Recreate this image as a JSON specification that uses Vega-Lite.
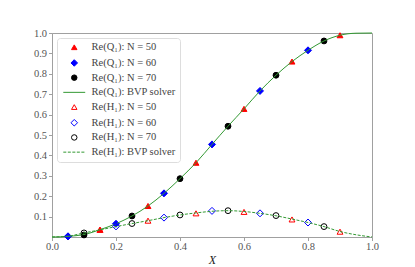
{
  "$schema": "https://vega.github.io/schema/vega-lite/v6.json",
  "autosize": {"type": "none"},
  "padding": {"left": 52, "top": 33, "right": 43, "bottom": 30},
  "width": 320,
  "height": 204,
  "background": "white",
  "config": {
    "font": "Liberation Serif",
    "view": {"stroke": "#a0a0a0", "strokeWidth": 1},
    "axis": {
      "grid": false,
      "domainColor": "#a0a0a0",
      "tickColor": "#a0a0a0",
      "tickSize": 3.5,
      "labelFont": "Liberation Serif",
      "labelFontSize": 10.5,
      "labelColor": "#555555",
      "titleFont": "Liberation Serif",
      "titleFontSize": 12,
      "titleFontStyle": "italic",
      "titleFontWeight": "normal",
      "titleColor": "#222222"
    },
    "legend": {
      "labelFont": "Liberation Serif",
      "labelFontSize": 10.5,
      "labelColor": "#444444"
    }
  },
  "datasets": {
    "pts": [
      {"s": "Re(Q₁): N = 50", "x": 0.15, "y": 0.036},
      {"s": "Re(Q₁): N = 50", "x": 0.3, "y": 0.152},
      {"s": "Re(Q₁): N = 50", "x": 0.45, "y": 0.364},
      {"s": "Re(Q₁): N = 50", "x": 0.6, "y": 0.628},
      {"s": "Re(Q₁): N = 50", "x": 0.75, "y": 0.86},
      {"s": "Re(Q₁): N = 50", "x": 0.9, "y": 0.989},
      {"s": "Re(Q₁): N = 60", "x": 0.05, "y": 0.003},
      {"s": "Re(Q₁): N = 60", "x": 0.2, "y": 0.065},
      {"s": "Re(Q₁): N = 60", "x": 0.35, "y": 0.214},
      {"s": "Re(Q₁): N = 60", "x": 0.5, "y": 0.454},
      {"s": "Re(Q₁): N = 60", "x": 0.65, "y": 0.716},
      {"s": "Re(Q₁): N = 60", "x": 0.8, "y": 0.915},
      {"s": "Re(Q₁): N = 70", "x": 0.1, "y": 0.01},
      {"s": "Re(Q₁): N = 70", "x": 0.25, "y": 0.103},
      {"s": "Re(Q₁): N = 70", "x": 0.4, "y": 0.286},
      {"s": "Re(Q₁): N = 70", "x": 0.55, "y": 0.543},
      {"s": "Re(Q₁): N = 70", "x": 0.7, "y": 0.793},
      {"s": "Re(Q₁): N = 70", "x": 0.85, "y": 0.961},
      {"s": "Re(H₁): N = 50", "x": 0.15, "y": 0.035},
      {"s": "Re(H₁): N = 50", "x": 0.3, "y": 0.08},
      {"s": "Re(H₁): N = 50", "x": 0.45, "y": 0.116},
      {"s": "Re(H₁): N = 50", "x": 0.6, "y": 0.123},
      {"s": "Re(H₁): N = 50", "x": 0.75, "y": 0.086},
      {"s": "Re(H₁): N = 50", "x": 0.9, "y": 0.026},
      {"s": "Re(H₁): N = 60", "x": 0.05, "y": 0.003},
      {"s": "Re(H₁): N = 60", "x": 0.2, "y": 0.052},
      {"s": "Re(H₁): N = 60", "x": 0.35, "y": 0.095},
      {"s": "Re(H₁): N = 60", "x": 0.5, "y": 0.128},
      {"s": "Re(H₁): N = 60", "x": 0.65, "y": 0.116},
      {"s": "Re(H₁): N = 60", "x": 0.8, "y": 0.071},
      {"s": "Re(H₁): N = 70", "x": 0.1, "y": 0.02},
      {"s": "Re(H₁): N = 70", "x": 0.25, "y": 0.066},
      {"s": "Re(H₁): N = 70", "x": 0.4, "y": 0.108},
      {"s": "Re(H₁): N = 70", "x": 0.55, "y": 0.129},
      {"s": "Re(H₁): N = 70", "x": 0.7, "y": 0.105},
      {"s": "Re(H₁): N = 70", "x": 0.85, "y": 0.051}
    ],
    "qline": [
      {"s": "Re(Q₁): BVP solver", "x": 0, "y": 0},
      {"s": "Re(Q₁): BVP solver", "x": 0.025, "y": 0.0006},
      {"s": "Re(Q₁): BVP solver", "x": 0.05, "y": 0.003},
      {"s": "Re(Q₁): BVP solver", "x": 0.075, "y": 0.0065},
      {"s": "Re(Q₁): BVP solver", "x": 0.1, "y": 0.012},
      {"s": "Re(Q₁): BVP solver", "x": 0.15, "y": 0.036},
      {"s": "Re(Q₁): BVP solver", "x": 0.2, "y": 0.065},
      {"s": "Re(Q₁): BVP solver", "x": 0.25, "y": 0.103},
      {"s": "Re(Q₁): BVP solver", "x": 0.3, "y": 0.152},
      {"s": "Re(Q₁): BVP solver", "x": 0.35, "y": 0.214},
      {"s": "Re(Q₁): BVP solver", "x": 0.4, "y": 0.286},
      {"s": "Re(Q₁): BVP solver", "x": 0.45, "y": 0.364},
      {"s": "Re(Q₁): BVP solver", "x": 0.5, "y": 0.454},
      {"s": "Re(Q₁): BVP solver", "x": 0.55, "y": 0.543},
      {"s": "Re(Q₁): BVP solver", "x": 0.6, "y": 0.628},
      {"s": "Re(Q₁): BVP solver", "x": 0.65, "y": 0.716},
      {"s": "Re(Q₁): BVP solver", "x": 0.7, "y": 0.793},
      {"s": "Re(Q₁): BVP solver", "x": 0.75, "y": 0.86},
      {"s": "Re(Q₁): BVP solver", "x": 0.8, "y": 0.915},
      {"s": "Re(Q₁): BVP solver", "x": 0.85, "y": 0.961},
      {"s": "Re(Q₁): BVP solver", "x": 0.9, "y": 0.989},
      {"s": "Re(Q₁): BVP solver", "x": 0.95, "y": 0.999},
      {"s": "Re(Q₁): BVP solver", "x": 1.0, "y": 1.0}
    ],
    "hline": [
      {"s": "Re(H₁): BVP solver", "x": 0, "y": 0},
      {"s": "Re(H₁): BVP solver", "x": 0.05, "y": 0.004},
      {"s": "Re(H₁): BVP solver", "x": 0.1, "y": 0.02},
      {"s": "Re(H₁): BVP solver", "x": 0.15, "y": 0.035},
      {"s": "Re(H₁): BVP solver", "x": 0.2, "y": 0.051},
      {"s": "Re(H₁): BVP solver", "x": 0.25, "y": 0.066},
      {"s": "Re(H₁): BVP solver", "x": 0.3, "y": 0.08},
      {"s": "Re(H₁): BVP solver", "x": 0.35, "y": 0.095},
      {"s": "Re(H₁): BVP solver", "x": 0.4, "y": 0.108},
      {"s": "Re(H₁): BVP solver", "x": 0.45, "y": 0.118},
      {"s": "Re(H₁): BVP solver", "x": 0.5, "y": 0.126},
      {"s": "Re(H₁): BVP solver", "x": 0.55, "y": 0.129},
      {"s": "Re(H₁): BVP solver", "x": 0.6, "y": 0.125},
      {"s": "Re(H₁): BVP solver", "x": 0.65, "y": 0.116},
      {"s": "Re(H₁): BVP solver", "x": 0.7, "y": 0.104},
      {"s": "Re(H₁): BVP solver", "x": 0.75, "y": 0.088},
      {"s": "Re(H₁): BVP solver", "x": 0.8, "y": 0.071},
      {"s": "Re(H₁): BVP solver", "x": 0.85, "y": 0.051},
      {"s": "Re(H₁): BVP solver", "x": 0.9, "y": 0.027},
      {"s": "Re(H₁): BVP solver", "x": 0.95, "y": 0.011},
      {"s": "Re(H₁): BVP solver", "x": 1.0, "y": 0}
    ]
  },
  "encoding": {
    "x": {
      "field": "x", "type": "quantitative", "title": "X",
      "scale": {"domain": [0, 1], "nice": false, "zero": false},
      "axis": {"values": [0, 0.2, 0.4, 0.6, 0.8, 1.0], "format": ".1f", "labelPadding": 1, "titlePadding": 2, "labelFlush": false}
    },
    "y": {
      "field": "y", "type": "quantitative", "title": null,
      "scale": {"domain": [0, 1], "nice": false, "zero": false},
      "axis": {"values": [0.1, 0.2, 0.3, 0.4, 0.5, 0.6, 0.7, 0.8, 0.9, 1.0], "format": ".1f", "labelPadding": 2, "labelFlush": false}
    }
  },
  "layer": [
    {
      "data": {"name": "pts"},
      "transform": [{"filter": "indexof(datum.s, 'Q') >= 0"}],
      "mark": {"type": "point", "filled": true, "size": 34, "strokeWidth": 1, "opacity": 1},
      "encoding": {
        "shape": {"field": "s", "type": "nominal", "title": null,
          "scale": {"domain": ["Re(Q₁): N = 50", "Re(Q₁): N = 60", "Re(Q₁): N = 70", "Re(Q₁): BVP solver", "Re(H₁): N = 50", "Re(H₁): N = 60", "Re(H₁): N = 70", "Re(H₁): BVP solver"],
            "range": ["triangle-up", "M0,-1.2L1.2,0L0,1.2L-1.2,0Z", "circle", "M-4,0H4", "triangle-up", "M0,-1.2L1.2,0L0,1.2L-1.2,0Z", "circle", "M-4,0H-2.9M-2.35,0H-1.25M-0.7,0H0.4M0.95,0H2.05M2.6,0H3.7"]}},
        "fill": {"field": "s", "type": "nominal", "title": null,
          "scale": {"domain": ["Re(Q₁): N = 50", "Re(Q₁): N = 60", "Re(Q₁): N = 70", "Re(Q₁): BVP solver", "Re(H₁): N = 50", "Re(H₁): N = 60", "Re(H₁): N = 70", "Re(H₁): BVP solver"],
            "range": ["#ff0000", "#0000ff", "#000000", "transparent", "transparent", "transparent", "transparent", "transparent"]}},
        "stroke": {"field": "s", "type": "nominal", "title": null,
          "scale": {"domain": ["Re(Q₁): N = 50", "Re(Q₁): N = 60", "Re(Q₁): N = 70", "Re(Q₁): BVP solver", "Re(H₁): N = 50", "Re(H₁): N = 60", "Re(H₁): N = 70", "Re(H₁): BVP solver"],
            "range": ["#ff0000", "#0000ff", "#000000", "#339933", "#ff0000", "#0000ff", "#000000", "#339933"]},
          "legend": {
            "orient": "top-left", "offset": 5,
            "padding": 4, "rowPadding": 3.7, "symbolOffset": 8, "labelOffset": 12,
            "symbolSize": 30,
            "fillColor": "white", "strokeColor": "#dddddd", "cornerRadius": 3,
            "symbolStrokeWidth": 1
          }}
      }
    },
    {
      "data": {"name": "qline"},
      "mark": {"type": "line", "strokeWidth": 1, "interpolate": "monotone"},
      "encoding": {
        "stroke": {"field": "s", "type": "nominal"}
      }
    },
    {
      "data": {"name": "pts"},
      "transform": [{"filter": "indexof(datum.s, 'H') >= 0"}],
      "mark": {"type": "point", "filled": true, "size": 34, "strokeWidth": 1, "opacity": 1},
      "encoding": {
        "shape": {"field": "s", "type": "nominal"},
        "fill": {"field": "s", "type": "nominal"},
        "stroke": {"field": "s", "type": "nominal"}
      }
    },
    {
      "data": {"name": "hline"},
      "mark": {"type": "line", "strokeWidth": 1, "interpolate": "monotone", "strokeDash": [3, 1.5]},
      "encoding": {
        "stroke": {"field": "s", "type": "nominal"}
      }
    }
  ]
}
